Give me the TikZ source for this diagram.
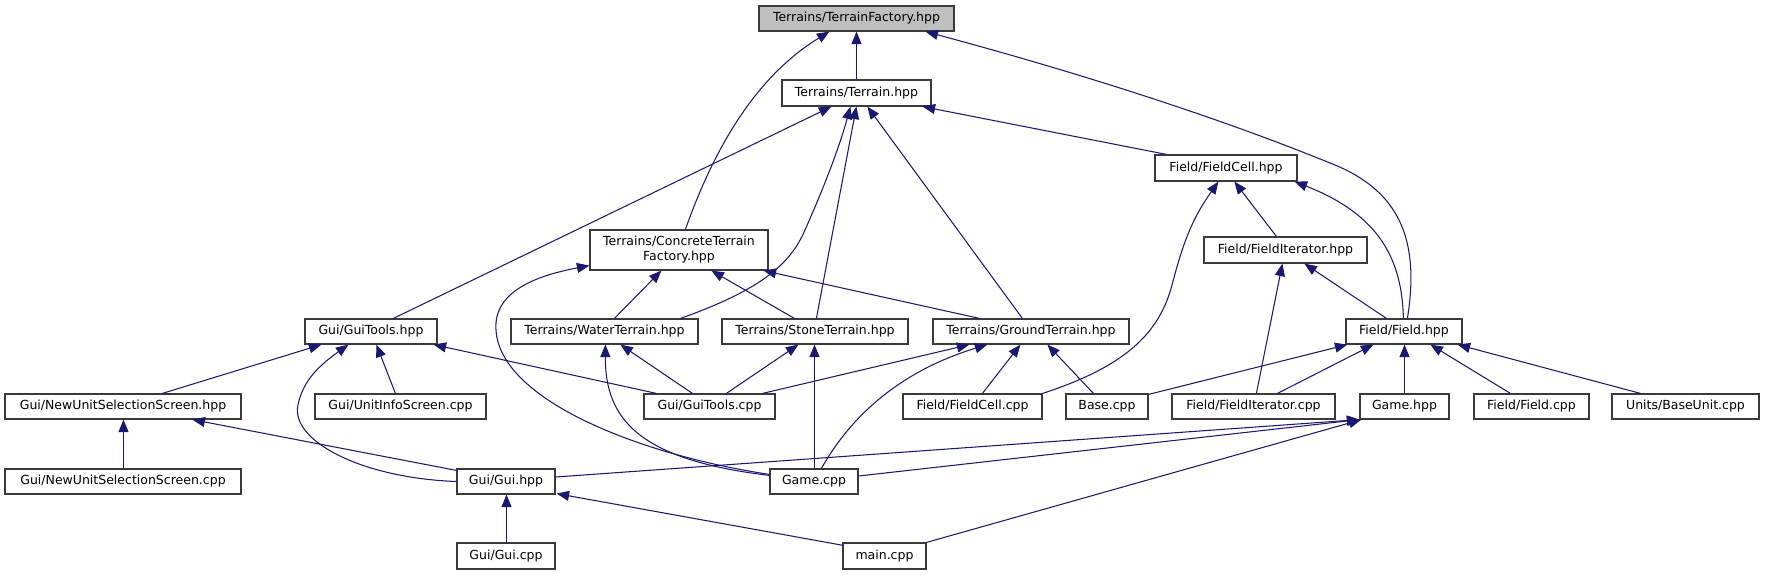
\documentclass[tikz,border=0pt]{standalone}
\usepackage{fontspec}
\setmainfont{DejaVu Sans}
\usetikzlibrary{arrows.meta,calc}
\definecolor{edgecol}{HTML}{191970}
\definecolor{bordcol}{HTML}{3A3A3A}
\definecolor{rootfill}{HTML}{BFBFBF}
\tikzset{
  box/.style={draw=bordcol, line width=1.2pt, fill=white, inner sep=0pt,
    font=\fontsize{12.5}{15}\selectfont, align=center},
  rootbox/.style={box, fill=rootfill},
  dep/.style={draw=edgecol, line width=1.05pt, -{Triangle[length=12.5pt,width=10pt]}},
}
\begin{document}
\begin{tikzpicture}[x=1pt,y=-1pt]
\useasboundingbox (0,0) rectangle (1765,575);
% nodes
\node[rootbox,minimum width=195pt,minimum height=25pt] (tf) at (856.5,18.5) {Terrains/TerrainFactory.hpp};
\node[box,minimum width=149pt,minimum height=26pt] (terrain) at (856.5,93) {Terrains/Terrain.hpp};
\node[box,minimum width=178pt,minimum height=40pt] (concrete) at (679,250) {Terrains/ConcreteTerrain\\Factory.hpp};
\node[box,minimum width=142pt,minimum height=26pt] (fieldcell) at (1226,168) {Field/FieldCell.hpp};
\node[box,minimum width=163pt,minimum height=26pt] (fielditer) at (1285.5,250) {Field/FieldIterator.hpp};
\node[box,minimum width=132pt,minimum height=25pt] (guitools) at (371,331.5) {Gui/GuiTools.hpp};
\node[box,minimum width=187pt,minimum height=25pt] (water) at (604.5,331.5) {Terrains/WaterTerrain.hpp};
\node[box,minimum width=186pt,minimum height=25pt] (stone) at (815,331.5) {Terrains/StoneTerrain.hpp};
\node[box,minimum width=196pt,minimum height=25pt] (ground) at (1031,331.5) {Terrains/GroundTerrain.hpp};
\node[box,minimum width=116pt,minimum height=25pt] (field) at (1404,331.5) {Field/Field.hpp};
\node[box,minimum width=236pt,minimum height=25pt] (nussh) at (123,406.5) {Gui/NewUnitSelectionScreen.hpp};
\node[box,minimum width=171pt,minimum height=25pt] (uis) at (400.5,406.5) {Gui/UnitInfoScreen.cpp};
\node[box,minimum width=131pt,minimum height=25pt] (gtcpp) at (709.5,406.5) {Gui/GuiTools.cpp};
\node[box,minimum width=139pt,minimum height=25pt] (fccpp) at (972.5,406.5) {Field/FieldCell.cpp};
\node[box,minimum width=82pt,minimum height=25pt] (base) at (1107,406.5) {Base.cpp};
\node[box,minimum width=163pt,minimum height=25pt] (ficpp) at (1253.5,406.5) {Field/FieldIterator.cpp};
\node[box,minimum width=89pt,minimum height=25pt] (gamehpp) at (1404.5,406.5) {Game.hpp};
\node[box,minimum width=115pt,minimum height=25pt] (fieldcpp) at (1531.5,406.5) {Field/Field.cpp};
\node[box,minimum width=147pt,minimum height=25pt] (baseunit) at (1685.5,406.5) {Units/BaseUnit.cpp};
\node[box,minimum width=236pt,minimum height=25pt] (nusscpp) at (123,481.5) {Gui/NewUnitSelectionScreen.cpp};
\node[box,minimum width=98pt,minimum height=25pt] (guihpp) at (506,481.5) {Gui/Gui.hpp};
\node[box,minimum width=88pt,minimum height=25pt] (gamecpp) at (814,481.5) {Game.cpp};
\node[box,minimum width=98pt,minimum height=26pt] (guicpp) at (506,556) {Gui/Gui.cpp};
\node[box,minimum width=83pt,minimum height=26pt] (maincpp) at (884.5,556) {main.cpp};
% edges into TerrainFactory
\draw[dep] (terrain.north) -- (tf.south);
\draw[dep] ($(concrete.north west)+(96,0)$) .. controls (710,160) and (750,80) .. ($(tf.south west)+(71,0)$);
\draw[dep] ($(field.north west)+(62,0)$) .. controls (1420,240) and (1400,190) .. (1330,163) .. controls (1200,110) and (1050,65) .. ($(tf.south east)+(-29,0)$);
% edges into Terrain
\draw[dep] ($(guitools.north west)+(89,0)$) -- ($(terrain.south west)+(50,0)$);
\draw[dep] ($(water.north east)+(-18,0)$) .. controls (760,290) and (790,265) .. (805,230) .. controls (825,185) and (840,145) .. ($(terrain.south west)+(69,0)$);
\draw[dep] ($(stone.north west)+(95,0)$) -- ($(terrain.south west)+(75,0)$);
\draw[dep] ($(ground.north west)+(90,0)$) -- ($(terrain.south west)+(86,0)$);
\draw[dep] ($(fieldcell.north west)+(12,0)$) -- ($(terrain.south east)+(-9,0)$);
% edges into FieldCell.hpp
\draw[dep] ($(fielditer.north west)+(73,0)$) -- ($(fieldcell.south west)+(80,0)$);
\draw[dep] (fccpp.north east) .. controls (1130,365) and (1160,330) .. (1172,285) .. controls (1185,235) and (1195,215) .. ($(fieldcell.south west)+(64,0)$);
\draw[dep] ($(field.north west)+(58,0)$) .. controls (1402,260) and (1380,215) .. ($(fieldcell.south east)+(-3,0)$);
% edges into FieldIterator.hpp
\draw[dep] ($(ficpp.north west)+(85,0)$) -- ($(fielditer.south west)+(79,0)$);
\draw[dep] ($(field.north west)+(41,0)$) -- ($(fielditer.south west)+(101,0)$);
% edges into ConcreteTerrainFactory
\draw[dep] ($(water.north west)+(104,0)$) -- ($(concrete.south west)+(72,0)$);
\draw[dep] ($(stone.north west)+(73,0)$) -- ($(concrete.south west)+(122,0)$);
\draw[dep] ($(ground.north west)+(47,0)$) -- ($(concrete.south east)+(-5,0)$);
\draw[dep] ($(gamecpp.north west)+(0,6)$) .. controls (640,455) and (500,400) .. (496,330) .. controls (493,290) and (540,275) .. ($(concrete.south west)+(0,-5)$);
% edges into GuiTools.hpp
\draw[dep] ($(nussh.north west)+(158,0)$) -- ($(guitools.south west)+(17,0)$);
\draw[dep] (guihpp.west) .. controls (360,478) and (290,440) .. (298,405) .. controls (303,380) and (320,365) .. ($(guitools.south west)+(44,0)$);
\draw[dep] ($(uis.north west)+(81,0)$) -- ($(guitools.south west)+(72,0)$);
\draw[dep] ($(gtcpp.north west)+(13,0)$) -- ($(guitools.south east)+(-4,0)$);
% edges into WaterTerrain
\draw[dep] ($(gtcpp.north west)+(49,0)$) -- ($(water.south west)+(110,0)$);
\draw[dep] ($(gamecpp.north west)+(0,7)$) .. controls (640,460) and (605,420) .. ($(water.south west)+(95,0)$);
% edges into StoneTerrain
\draw[dep] ($(gtcpp.north west)+(83,0)$) -- ($(stone.south west)+(77,0)$);
\draw[dep] ($(gamecpp.north)+(0.5,0)$) -- ($(gamecpp.north |- stone.south)+(0.5,0)$);
% edges into GroundTerrain
\draw[dep] ($(gtcpp.north east)+(-13,0)$) -- ($(ground.south west)+(37,0)$);
\draw[dep] ($(gamecpp.north west)+(52,0)$) .. controls (860,400) and (920,365) .. ($(ground.south west)+(55,0)$);
\draw[dep] ($(fccpp.north west)+(80,0)$) -- ($(ground.south west)+(88,0)$);
\draw[dep] ($(base.north west)+(28,0)$) -- ($(ground.south west)+(115,0)$);
% edges into NewUnitSelectionScreen.hpp
\draw[dep] ($(nusscpp.north)+(0.5,0)$) -- ($(nussh.south)+(0.5,0)$);
\draw[dep] ($(guihpp.north west)+(0,2)$) -- ($(nussh.south west)+(188,0)$);
% edges into Gui.hpp
\draw[dep] ($(guicpp.north)+(0.5,0)$) -- ($(guihpp.south)+(0.5,0)$);
\draw[dep] ($(maincpp.north west)+(1,3)$) -- ($(guihpp.south east)+(1,-1)$);
% edges into Game.hpp
\draw[dep] ($(guihpp.east)+(0,-4.5)$) -- (gamehpp.south west);
\draw[dep] ($(gamecpp.east)+(0,-5.5)$) -- (gamehpp.south west);
\draw[dep] (maincpp.north east) -- ($(gamehpp.south west)+(2,0)$);
% edges into Field.hpp
\draw[dep] ($(base.north east)+(0,1)$) -- ($(field.south west)+(2,0)$);
\draw[dep] ($(ficpp.north west)+(106,0)$) -- ($(field.south west)+(28,0)$);
\draw[dep] (gamehpp.north) -- (gamehpp.north |- field.south);
\draw[dep] ($(fieldcpp.north west)+(37,0)$) -- ($(field.south west)+(85,0)$);
\draw[dep] ($(baseunit.north west)+(29,0)$) -- ($(field.south east)+(-5,0)$);
\end{tikzpicture}
\end{document}
